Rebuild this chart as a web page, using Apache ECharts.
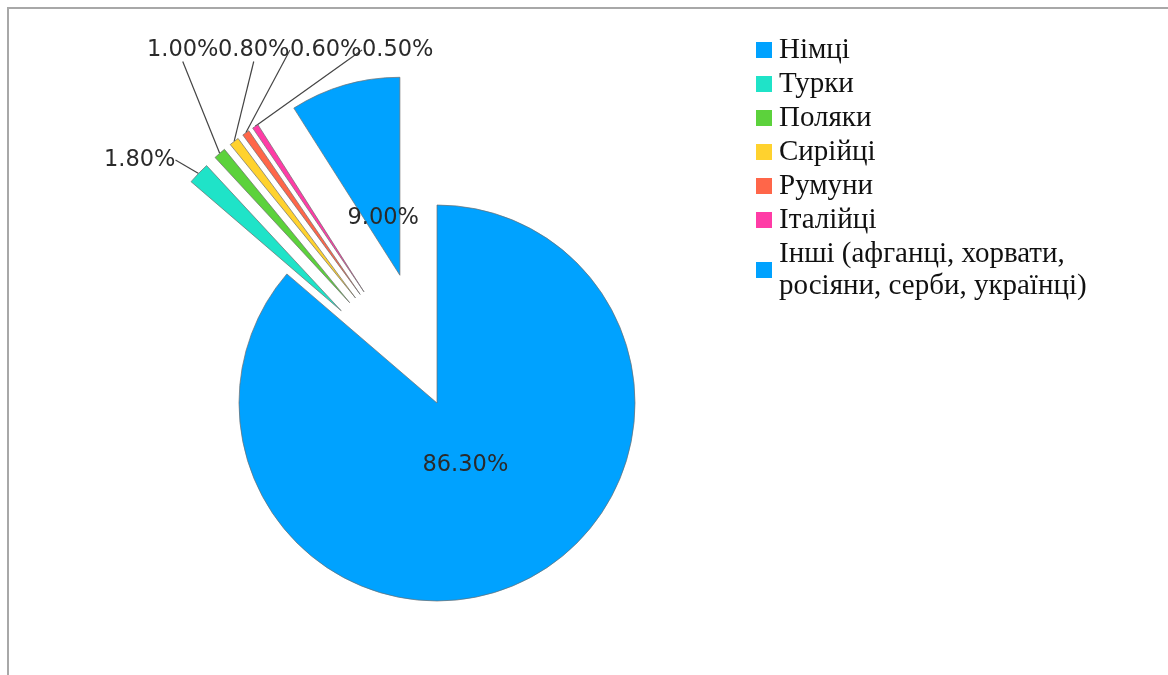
<!DOCTYPE html>
<html>
<head>
<meta charset="utf-8">
<script src="https://cdn.jsdelivr.net/npm/echarts@6/dist/echarts.min.js"></script>
<style>
  html, body { margin: 0; padding: 0; background: #fff; }
  #frame {
    position: absolute; left: 7px; top: 7px; width: 1161px; height: 668px;
    border-left: 2px solid #a8a8a8; border-top: 2px solid #a8a8a8;
  }
  #chart-container { position: absolute; left: 0; top: 0; width: 1168px; height: 675px; }
</style>
</head>
<body>
<div id="frame"></div>
<div id="chart-container"></div>
<script>
var dom = document.getElementById("chart-container");
var myChart = echarts.init(dom, null, { renderer: "canvas" });

const groups = [
  "Німці",
  "Турки",
  "Поляки",
  "Сирійці",
  "Румуни",
  "Італійці",
  "Інші (афганці, хорвати, росіяни, серби, українці)",
];
const shares = [86.3, 1.8, 1.0, 0.8, 0.6, 0.5, 9.0];
const colors = ["#00a2ff", "#1fe3c8", "#5cd23c", "#ffd22e", "#ff6649", "#ff3ca6", "#00a2ff"];

// pie placement and how far the small slices are pulled out
const pieX = 437;
const pieY = 403;
const pieR = 198;
const explode = 133;

// where the outside labels sit (left / vertical middle of the text)
const labelSpots = {
  1: [104, 160],
  2: [147, 50],
  3: [218, 50],
  4: [290, 50],
  5: [362, 50],
};

const total = shares.reduce((a, b) => a + b, 0);

const series = groups.map(function (name, i) {
  let before = 0;
  for (let k = 0; k < i; k++) before += shares[k];
  const mid = ((before + shares[i] / 2) / total) * Math.PI * 2;
  const off = i === 0 ? 0 : explode;
  const inside = i === 0 || i === groups.length - 1;
  const pullIn = i === 0 ? 34 : 42;

  return {
    type: "pie",
    center: [pieX + off * Math.sin(mid), pieY - off * Math.cos(mid)],
    radius: [0, pieR],
    startAngle: 90 - (before / total) * 360,
    clockwise: true,
    avoidLabelOverlap: false,
    emphasis: { disabled: true },
    itemStyle: {
      color: colors[i],
      borderColor: "rgba(110,110,110,0.7)",
      borderWidth: 1,
    },
    label: {
      position: inside ? "inside" : "outside",
      fontFamily: "DejaVu Sans",
      fontSize: 22.5,
      color: "#2a2a2a",
      formatter: function (p) {
        return p.value.toFixed(2) + "%";
      },
    },
    labelLine: {
      show: !inside,
      length: 20,
      length2: 0,
      lineStyle: { color: "#444", width: 1.2 },
    },
    labelLayout: function () {
      if (labelSpots[i]) {
        return {
          x: labelSpots[i][0],
          y: labelSpots[i][1],
          align: "left",
          verticalAlign: "middle",
        };
      }
      return { dx: -Math.sin(mid) * pullIn, dy: Math.cos(mid) * pullIn };
    },
    data: [
      { name: name, value: shares[i] },
      {
        name: "",
        value: total - shares[i],
        itemStyle: { color: "rgba(0,0,0,0)", borderWidth: 0 },
        label: { show: false },
        labelLine: { show: false },
      },
    ],
  };
});

var option = {
  backgroundColor: "transparent",
  animation: false,
  legend: {
    orient: "vertical",
    left: 756,
    top: 34,
    padding: 0,
    icon: "rect",
    itemWidth: 16,
    itemHeight: 16,
    itemGap: 2,
    selectedMode: false,
    itemStyle: { borderWidth: 0 },
    textStyle: {
      fontFamily: "Liberation Serif",
      fontSize: 29,
      lineHeight: 32,
      color: "#111",
      padding: [0, 0, 0, 2],
    },
    formatter: function (name) {
      return name.replace("хорвати, ", "хорвати,\n");
    },
    data: groups,
  },
  series: series,
};

myChart.setOption(option);
window.addEventListener("resize", myChart.resize);
</script>
</body>
</html>
